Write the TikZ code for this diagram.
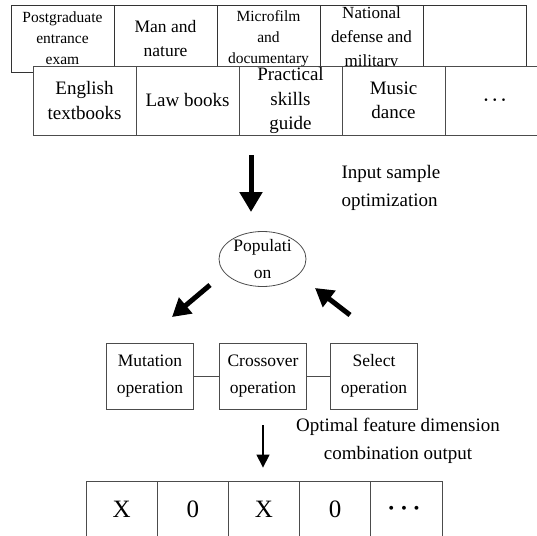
\documentclass[tikz,border=0pt]{standalone}
\usepackage{amsmath}
\usepackage{fontspec}
\setmainfont{Liberation Serif}
\usetikzlibrary{arrows.meta,shapes.geometric}

\begin{document}
\begin{tikzpicture}[
    x=1pt, y=-1pt,
    cat/.style={draw=black!80, line width=0.9pt, minimum width=103pt,
                minimum height=67pt, inner sep=0pt, align=center,
                font=\fontsize{15.5}{21}\selectfont},
    book/.style={draw=black!70, fill=white, line width=0.8pt,
                 minimum width=103pt, minimum height=69pt, inner sep=0pt,
                 align=center, font=\fontsize{19}{24.5}\selectfont},
    op/.style={draw=black!70, line width=0.8pt, minimum width=87pt,
               minimum height=66pt, inner sep=0pt, align=center,
               font=\fontsize{17.5}{27}\selectfont},
    gene/.style={draw=black!70, line width=0.8pt, minimum width=71.2pt,
                 minimum height=56pt, inner sep=0pt,
                 font=\fontsize{25}{30}\selectfont},
    note/.style={align=center, font=\fontsize{19}{28}\selectfont},
    bigflow/.style={-{Triangle[length=20pt, width=22pt]}, line width=5pt},
    flow/.style={-{Triangle[length=13pt, width=13pt]}, line width=1.2pt},
    link/.style={draw=black!70, line width=0.8pt},
]

    \useasboundingbox (0, 0) rectangle (537, 535);

    \node[cat] (exam) at (62.5, 38.5) {Postgraduate\\entrance\\exam};
    \node[cat, font=\fontsize{17.5}{24}\selectfont] (nature) at (165.5, 38.5) {Man and\\nature};
    \node[cat] (film) at (268.5, 38.5) {Microfilm\\and\\documentary};
    \node[cat, font=\fontsize{17}{24}\selectfont] (defense) at (371.5, 38.5) {National\\defense and\\military};
    \node[cat] (blank) at (474.5, 38.5) {};

    \node[book] (english) at (84.5, 100.5) {English\\textbooks};
    \node[book] (law) at (187.5, 100.5) {Law books};
    \node[book] (skills) at (290.5, 100.5) {Practical\\skills\\guide};
    \node[book] (music) at (393.5, 100.5) {Music\\dance};
    \node[book] (more) at (496.5, 100.5) {$\boldsymbol{\cdots}$};

    \coordinate (sample top) at (251, 155);
    \coordinate (sample end) at (251, 212);
    \draw[bigflow] (sample top) -- (sample end);
    \node[note, align=left, anchor=west] (sample) at (338, 187.5) {Input sample\\optimization};

    \node[ellipse, draw=black!70, line width=0.8pt, minimum width=87pt,
          minimum height=55pt] (pop) at (262.5, 259) {};
    \node[align=center, font=\fontsize{17.5}{27}\selectfont] (poptext) at (pop) {Populati\\on};

    \coordinate (mut from) at (210, 285);
    \coordinate (mut to) at (172, 317);
    \coordinate (sel from) at (350, 315);
    \coordinate (sel to) at (315, 288);
    \draw[bigflow, -{Triangle[length=18pt, width=20pt]}] (mut from) -- (mut to);
    \draw[bigflow, -{Triangle[length=18pt, width=20pt]}] (sel from) -- (sel to);

    \node[op] (mutation) at (150, 376) {Mutation\\operation};
    \node[op] (crossover) at (263, 376) {Crossover\\operation};
    \node[op] (select) at (374, 376) {Select\\operation};
    \draw[link] (mutation) -- (crossover);
    \draw[link] (crossover) -- (select);

    \node[note] (optimal) at (398, 441) {Optimal feature dimension\\combination output};

    \node[gene] (g1) at (121.6, 509) {X};
    \node[gene] (g2) at (192.8, 509) {0};
    \node[gene] (g3) at (264, 509) {X};
    \node[gene] (g4) at (335.2, 509) {0};
    \node[gene] (g5) at (406.4, 509) {$\boldsymbol{\cdots}$};

    \draw[flow, shorten <=16pt, shorten >=13pt] (crossover.south) -- (crossover.south |- g3.north);
\end{tikzpicture}
\end{document}
